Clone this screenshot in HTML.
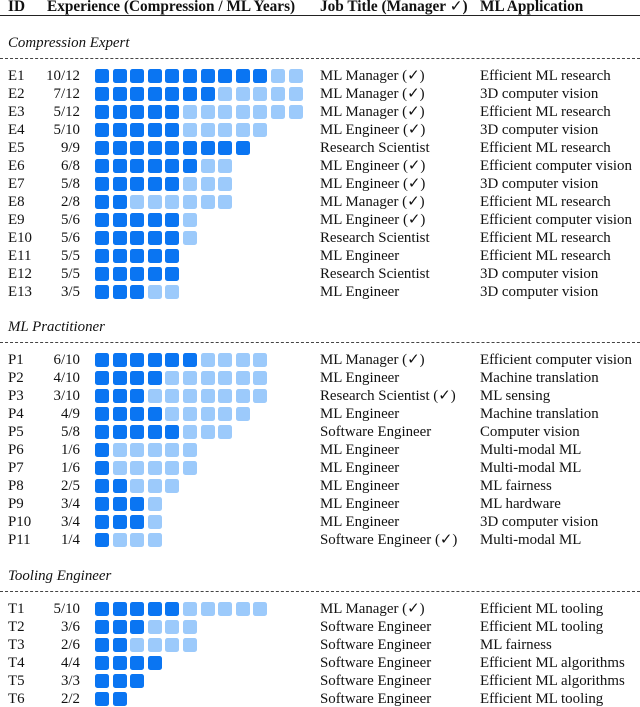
<!DOCTYPE html>
<html><head><meta charset="utf-8">
<style>
body{margin:0;background:#fff;}
#root{position:relative;width:640px;height:707px;overflow:hidden;font-family:"Liberation Serif",serif;font-size:14.9px;color:#111;}
.t{position:absolute;white-space:nowrap;line-height:18px;}
.b{font-weight:bold;font-size:15.3px;}
.sq{position:absolute;width:14px;height:14px;border-radius:2.5px;}
.hl{position:absolute;left:0;width:640px;}
</style></head>
<body>
<div id="root">
<div class="t b" style="left:8px;top:-2px">ID</div>
<div class="t b" style="left:47px;top:-2px">Experience (Compression / ML Years)</div>
<div class="t b" style="left:320px;top:-2px">Job Title (Manager <span style="font-weight:normal">✓</span>)</div>
<div class="t b" style="left:480px;top:-2px">ML Application</div>
<div class="hl" style="top:15px;border-top:1px solid #222"></div>
</div>
<script>
const groupNames=["Compression Expert","ML Practitioner","Tooling Engineer"];
const groupTitleY=[43,327,576];
const ids=[["E1","E2","E3","E4","E5","E6","E7","E8","E9","E10","E11","E12","E13"],["P1","P2","P3","P4","P5","P6","P7","P8","P9","P10","P11"],["T1","T2","T3","T4","T5","T6"]];
const compYears=[[10,7,5,5,9,6,5,2,5,5,5,5,3],[6,4,3,4,5,1,1,2,3,3,1],[5,3,2,4,3,2]];
const mlYears=[[12,12,12,10,9,8,8,8,6,6,5,5,5],[10,10,10,9,8,6,6,5,4,4,4],[10,6,6,4,3,2]];
const jobs=[["ML Manager (✓)","ML Manager (✓)","ML Manager (✓)","ML Engineer (✓)","Research Scientist","ML Engineer (✓)","ML Engineer (✓)","ML Manager (✓)","ML Engineer (✓)","Research Scientist","ML Engineer","Research Scientist","ML Engineer"],
["ML Manager (✓)","ML Engineer","Research Scientist (✓)","ML Engineer","Software Engineer","ML Engineer","ML Engineer","ML Engineer","ML Engineer","ML Engineer","Software Engineer (✓)"],
["ML Manager (✓)","Software Engineer","Software Engineer","Software Engineer","Software Engineer","Software Engineer"]];
const apps=[["Efficient ML research","3D computer vision","Efficient ML research","3D computer vision","Efficient ML research","Efficient computer vision","3D computer vision","Efficient ML research","Efficient computer vision","Efficient ML research","Efficient ML research","3D computer vision","3D computer vision"],
["Efficient computer vision","Machine translation","ML sensing","Machine translation","Computer vision","Multi-modal ML","Multi-modal ML","ML fairness","ML hardware","3D computer vision","Multi-modal ML"],
["Efficient ML tooling","Efficient ML tooling","ML fairness","Efficient ML algorithms","Efficient ML algorithms","Efficient ML tooling"]];
const root=document.getElementById('root');
const rowPitch=18, sqX0=95, sqPitch=17.6;
function mk(cls,style,txt){const d=document.createElement('div');d.className=cls;d.style.cssText=style;if(txt!==undefined)d.textContent=txt;root.appendChild(d);return d;}
groupNames.forEach((g,gi)=>{
  const ty=groupTitleY[gi];
  let el=mk('t',`left:8px;top:${ty-9}px;font-style:italic`,g);
  
  
  el=mk('hl',`top:${ty+15}px;border-top:1px dashed #444`);
  
  
  ids[gi].forEach((id,ri)=>{
    const cy=ty+32.5+ri*rowPitch;
    const top=cy-9;
    let e=mk('t',`left:8px;top:${top}px`,id);
    
    
    e=mk('t',`right:${640-80}px;top:${top}px`,compYears[gi][ri]+'/'+mlYears[gi][ri]);
    
    
    for(let k=0;k<mlYears[gi][ri];k++){
      const dark=k<compYears[gi][ri];
      const s=mk('sq',`left:${sqX0+k*sqPitch}px;top:${cy-7}px;background:${dark?'#0a75f2':'#9ccafb'}`);
      
      
    }
    e=mk('t',`left:320px;top:${top}px`,jobs[gi][ri]);
    
    
    e=mk('t',`left:480px;top:${top}px`,apps[gi][ri]);
    
    
  });
});
</script>
</body></html>
